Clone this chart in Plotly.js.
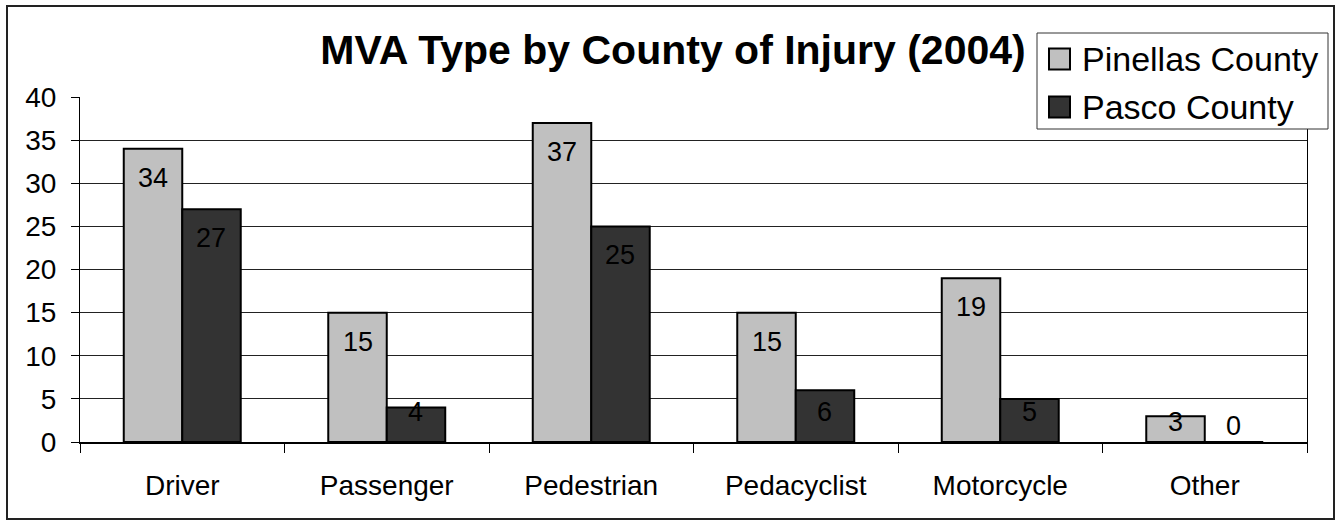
<!DOCTYPE html>
<html>
<head>
<meta charset="utf-8">
<script src="https://cdn.plot.ly/plotly-3.0.1.min.js"></script>
<style>
  html, body { margin: 0; padding: 0; background: #fff; }
  #wrap { position: relative; width: 1340px; height: 525px; }
  #chart { position: absolute; left: 0; top: 0; width: 1340px; height: 525px; }
  #frame { position: absolute; left: 6px; top: 5px; width: 1325px; height: 511px;
           border: 2px solid #222; pointer-events: none; }
</style>
</head>
<body>
<div id="wrap"><div id="chart"></div><div id="frame"></div></div>
<script>
// ---- data ----
const categories = ["Driver", "Passenger", "Pedestrian", "Pedacyclist", "Motorcycle", "Other"];
const pinellas = [34, 15, 37, 15, 19, 3];
const pasco = [27, 4, 25, 6, 5, 0];
const seriesNames = ["Pinellas County", "Pasco County"];
const yTicks = [0, 5, 10, 15, 20, 25, 30, 35, 40];

// ---- layout constants ----
const W = 1340, H = 525;
const M = { l: 80, r: 33, t: 97, b: 83 };
const yMax = 40;
const FONT = "Liberation Sans, Arial, sans-serif";
const plotW = W - M.l - M.r;
const plotH = H - M.t - M.b;
const ppu = plotH / yMax;            // pixels per data unit
const catW = plotW / categories.length;
const bargap = 0.428;
const barW = catW * (1 - bargap) / 2;

const colors = ["#C0C0C0", "#333333"];

const traces = [pinellas, pasco].map((vals, i) => ({
  type: "bar",
  name: seriesNames[i],
  x: categories,
  y: vals,
  marker: { color: colors[i], line: { color: "#000", width: 2 } },
  hoverinfo: "skip",
  showlegend: false
}));

// data labels ("inside end" style)
function labelY(v) {
  const hpx = v * ppu;
  let centerAbove;
  if (hpx < 30) centerAbove = 16 + hpx * 0.16;
  else centerAbove = Math.max(hpx - 29, 30);
  return centerAbove / ppu;
}
const annotations = [];
[pinellas, pasco].forEach((vals, i) => {
  vals.forEach((v, j) => {
    annotations.push({
      x: categories[j], y: labelY(v), xref: "x", yref: "y",
      xshift: (i === 0 ? -1 : 1) * barW / 2,
      text: String(v), showarrow: false,
      yanchor: "middle", xanchor: "center",
      font: { family: FONT, size: 27, color: "#000" }
    });
  });
});

// custom legend (box, swatches, labels) in paper coordinates
const px2x = px => (px - M.l) / plotW;
const py2y = py => (H - M.b - py) / plotH;
const legBox = { x0: 1037, x1: 1328, y0: 33, y1: 129 };
const shapes = [{
  type: "rect", xref: "paper", yref: "paper", layer: "above",
  x0: px2x(legBox.x0), x1: px2x(legBox.x1), y0: py2y(legBox.y1), y1: py2y(legBox.y0),
  fillcolor: "#fff", line: { color: "#333", width: 1 }
}];
const rowCenters = [59, 107];
seriesNames.forEach((name, i) => {
  const cy = rowCenters[i];
  shapes.push({
    type: "rect", xref: "paper", yref: "paper", layer: "above",
    x0: px2x(1049), x1: px2x(1070), y0: py2y(cy + 10.5), y1: py2y(cy - 10.5),
    fillcolor: colors[i], line: { color: "#000", width: 2 }
  });
  annotations.push({
    xref: "paper", yref: "paper", x: px2x(1080), y: py2y(cy),
    xanchor: "left", yanchor: "middle", showarrow: false,
    text: name, font: { family: FONT, size: 34, color: "#000" }
  });
});

const layout = {
  width: W, height: H,
  margin: M,
  paper_bgcolor: "#fff", plot_bgcolor: "#fff",
  barmode: "group",
  bargap: bargap, bargroupgap: 0,
  showlegend: false,
  title: {
    text: "<b>MVA Type by County of Injury (2004)</b>",
    font: { family: FONT, size: 41, color: "#000" },
    x: 673 / W, xref: "container", xanchor: "center",
    y: 1 - 50 / H, yref: "container", yanchor: "middle"
  },
  xaxis: {
    type: "category",
    tickson: "boundaries",
    ticks: "outside", ticklen: 9, tickcolor: "#000", tickwidth: 1,
    showline: true, linecolor: "#000", linewidth: 2,
    showgrid: false, zeroline: false,
    tickfont: { family: FONT, size: 28, color: "#000" },
    ticklabelstandoff: 17,
    fixedrange: true
  },
  yaxis: {
    range: [0, yMax],
    tickvals: yTicks,
    ticktext: yTicks.map(String),
    ticks: "outside", ticklen: 8, tickcolor: "#000", tickwidth: 1,
    showline: true, linecolor: "#000", linewidth: 1, mirror: true,
    showgrid: true, gridcolor: "#222", gridwidth: 1,
    zeroline: false,
    tickfont: { family: FONT, size: 28, color: "#000" },
    ticklabelstandoff: 9,
    fixedrange: true
  },
  shapes: shapes,
  annotations: annotations
};

Plotly.newPlot("chart", traces, layout, { displayModeBar: false, staticPlot: true });
</script>
</body>
</html>
